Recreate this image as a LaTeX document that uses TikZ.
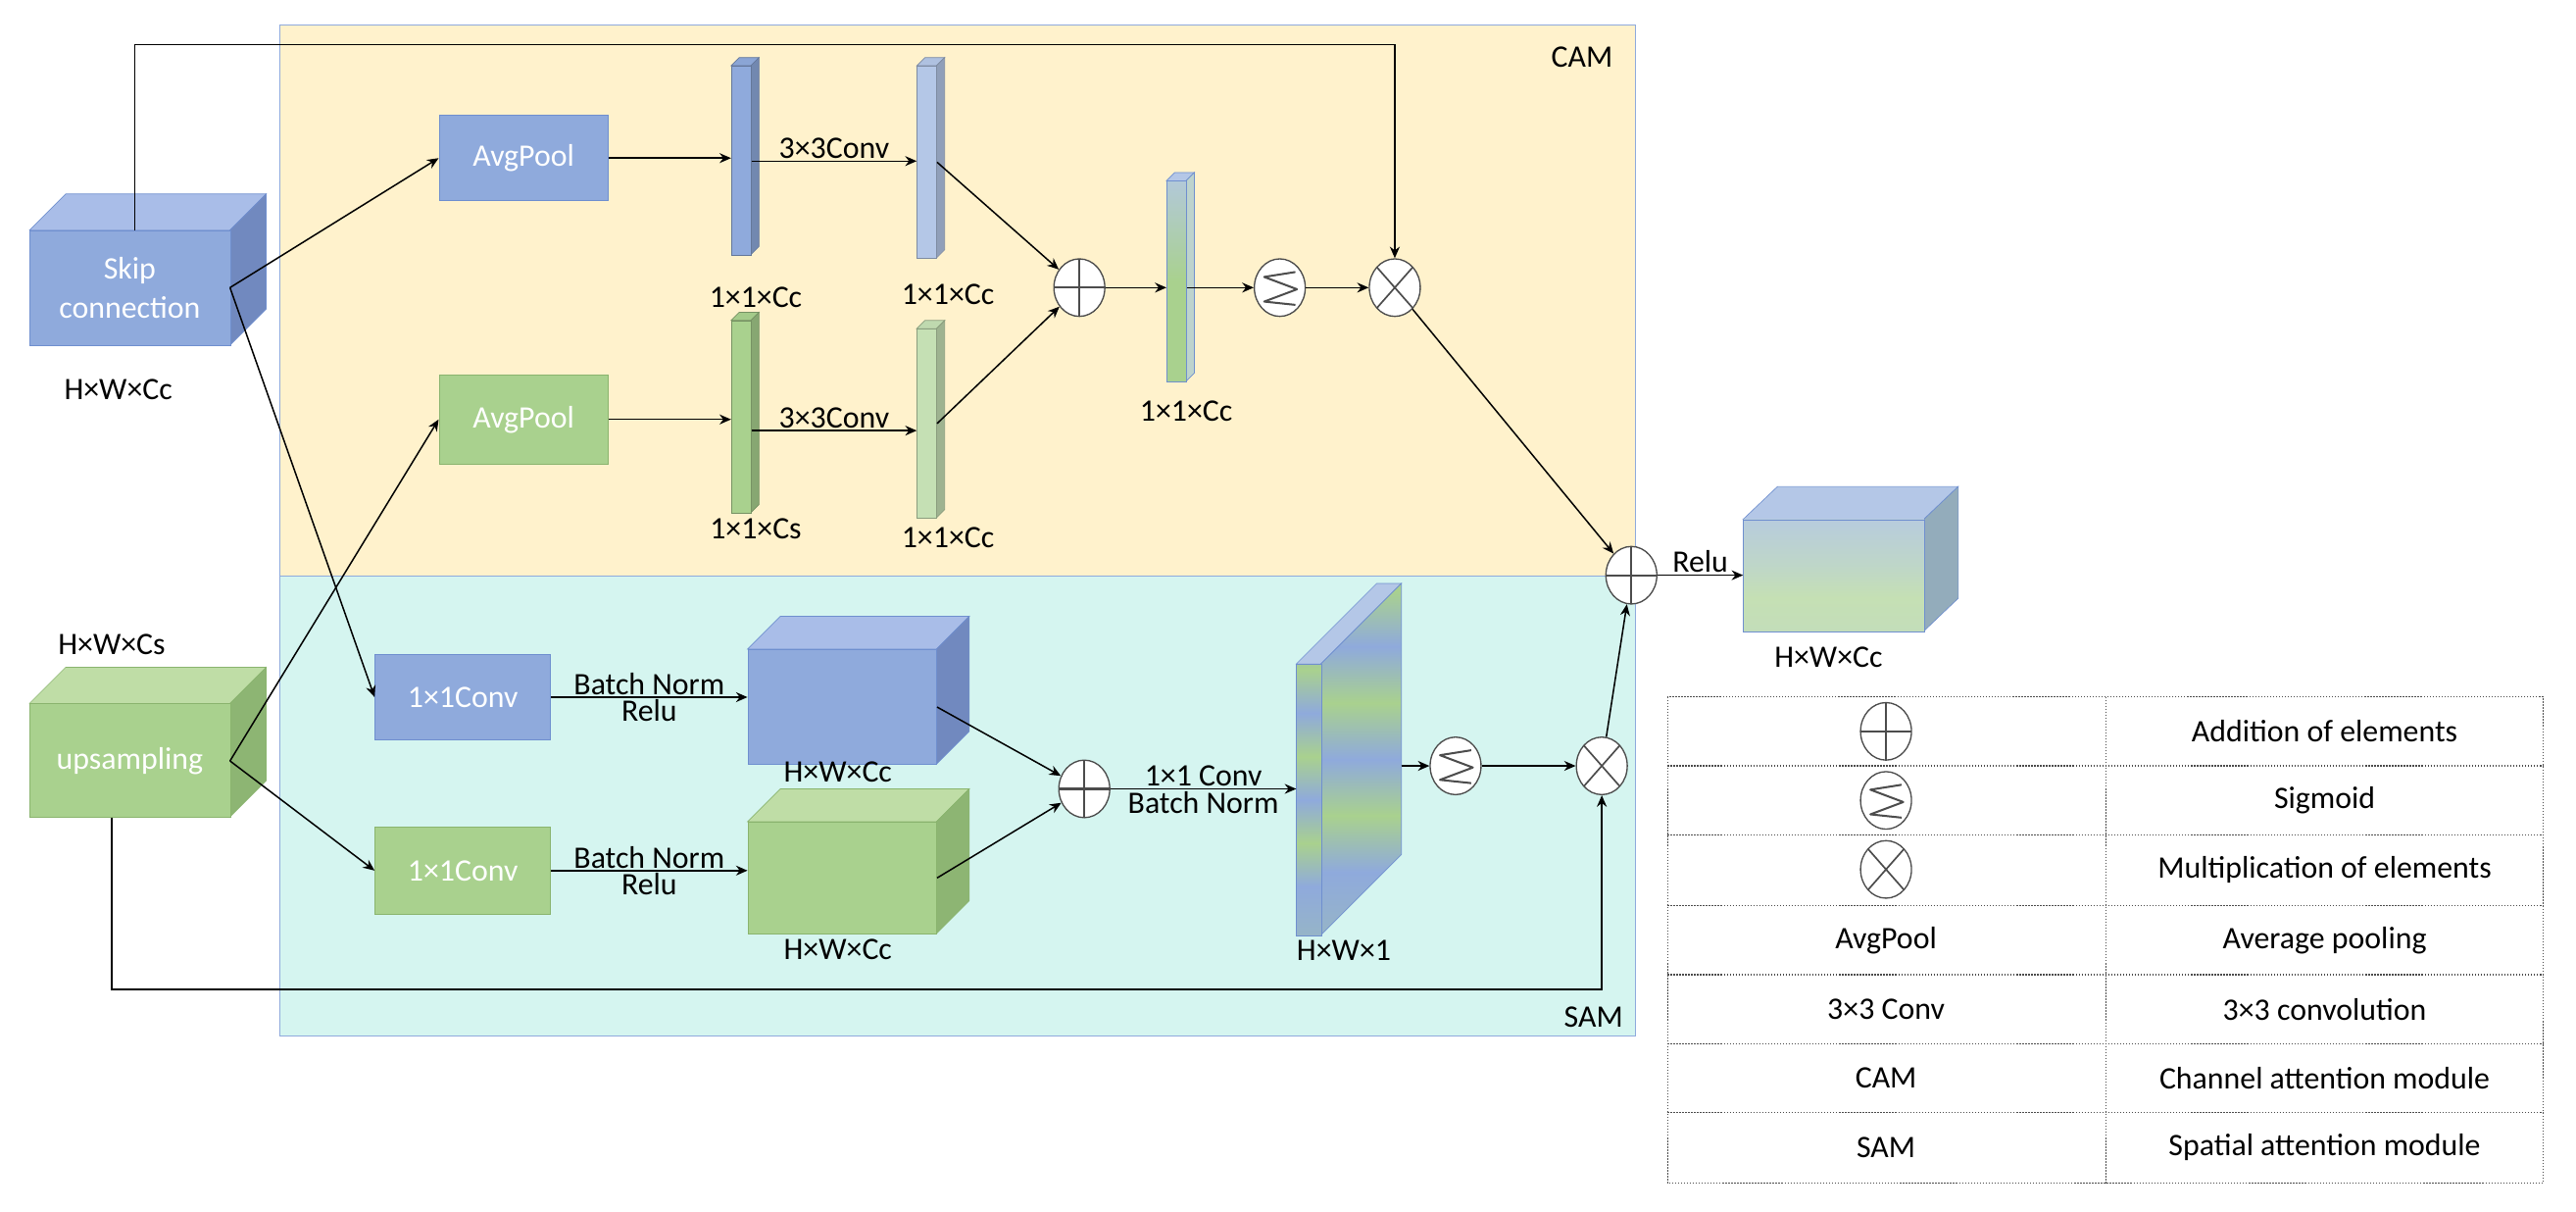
\documentclass[tikz,border=0pt]{standalone}
\usepackage{fontspec}
\setmainfont{Carlito}
\usetikzlibrary{shapes.geometric,arrows.meta}
\definecolor{camfill}{HTML}{FFF2CC}
\definecolor{samfill}{HTML}{D5F5F0}
\definecolor{frameb}{HTML}{8FAADC}
\definecolor{bfront}{HTML}{8FAADC}
\definecolor{btop}{HTML}{A9BDE8}
\definecolor{bside}{HTML}{7189BF}
\definecolor{bedge}{HTML}{6F8FCF}
\definecolor{blight}{HTML}{B4C7E7}
\definecolor{gfront}{HTML}{A9D18E}
\definecolor{gtop}{HTML}{BFDDA6}
\definecolor{gside}{HTML}{8DB573}
\definecolor{gedge}{HTML}{8AB46E}
\definecolor{glight}{HTML}{C5E0B4}
\pgfdeclareverticalshading{bg}{100bp}{color(0bp)=(gfront);color(50bp)=(gfront);color(80bp)=(blight);color(100bp)=(blight)}
\pgfdeclareverticalshading{outsh}{100bp}{color(0bp)=(glight!70!blight);color(40bp)=(glight);color(55bp)=(glight!60!blight);color(75bp)=(blight!80!glight);color(100bp)=(blight)}
\pgfdeclareverticalshading{stripes}{100bp}{color(0bp)=(gfront);color(34bp)=(bfront);color(42bp)=(gfront);color(50bp)=(bfront);color(58bp)=(gfront);color(66bp)=(bfront);color(74bp)=(gfront);color(82bp)=(bfront);color(90bp)=(gfront);color(100bp)=(bfront)}
\newcommand\mycube[7]{%
 \filldraw[fill=#7top,draw=#7edge] (#2,#3)--({#2+#6},{#3-#6})--({#4+#6},{#3-#6})--(#4,#3)--cycle;
 \filldraw[fill=#7side,draw=#7edge] (#4,#3)--({#4+#6},{#3-#6})--({#4+#6},{#5-#6})--(#4,#5)--cycle;
 \node[draw=#7edge,fill=#7front,inner sep=0,minimum width={#4-#2},minimum height={#5-#3},anchor=north west] (#1) at (#2,#3) {};}
\newcommand\mybar[6]{% name x1 y1 x2 y2 fill
 \filldraw[fill=#6!85!black!20!#6,draw=#6!70!black] (#2,#3)--({#2+5},{#3-5})--({#4+5},{#3-5})--(#4,#3)--cycle;
 \filldraw[fill=#6!80!black,draw=#6!70!black] (#4,#3)--({#4+5},{#3-5})--({#4+5},{#5-5})--(#4,#5)--cycle;
 \node[draw=#6!70!black,fill=#6,inner sep=0,minimum width={#4-#2},minimum height={#5-#3},anchor=north west] (#1) at (#2,#3) {};}
\tikzset{
 arr/.style={-{Stealth[length=7pt,width=6pt]},line width=0.9pt},
 op/.style={ellipse,draw=black!70,fill=white,minimum width=31pt,minimum height=35pt,inner sep=0,line width=0.8pt},
 plus/.style={op,path picture={\draw[line width=1.3pt] (path picture bounding box.north)--(path picture bounding box.south) (path picture bounding box.west)--(path picture bounding box.east);}},
 times/.style={op,path picture={\draw[line width=1pt] ([shift={(4.5pt,-5pt)}]path picture bounding box.north west)--([shift={(-4.5pt,5pt)}]path picture bounding box.south east) ([shift={(-4.5pt,-5pt)}]path picture bounding box.north east)--([shift={(4.5pt,5pt)}]path picture bounding box.south west);}},
 sig/.style={op,path picture={\draw[line width=1.2pt,line join=round] ([shift={(-6pt,-8pt)}]path picture bounding box.north east)--([shift={(6pt,-11pt)}]path picture bounding box.north west)--([shift={(-5pt,-1pt)}]path picture bounding box.east)--([shift={(6pt,9pt)}]path picture bounding box.south west)--([shift={(-6pt,7pt)}]path picture bounding box.south east);}},
 box/.style={draw=bedge,fill=bfront,text=white,inner sep=0,anchor=north west},
 lbl/.style={inner sep=1pt},
}
\begin{document}
\begin{tikzpicture}[x=1pt,y=-1pt,font=\fontsize{19}{22}\selectfont]
\useasboundingbox (0,0) rectangle (1568,737);
\node[draw=frameb,fill=camfill,line width=0.8pt,inner sep=0,minimum width=825,minimum height=335,anchor=north west] (cam) at (170,15) {};
\node[draw=frameb,fill=samfill,line width=0.8pt,inner sep=0,minimum width=825,minimum height=280,anchor=north west] (sam) at (170,350) {};
\node[lbl] (camt) at (963,35) {CAM};
\node[lbl] (samt) at (970,619) {SAM};
% input cubes
\mycube{skip}{18}{140}{140}{210}{22}{b}
\node[text=white,align=center,lbl,font=\fontsize{19}{24}\selectfont] (skipt) at (79,175) {Skip\\connection};
\node[lbl] (skipl) at (72,237) {H×W×Cc};
\mycube{up}{18}{428}{140}{497}{22}{g}
\node[text=white,lbl] (upt) at (79,463) {upsampling};
\node[lbl] (upl) at (68,392) {H×W×Cs};
\coordinate (skipr) at (140,175);
\coordinate (upr) at (140,463);
% CAM
\node[box,minimum width=103,minimum height=52] (ap1) at (267,70) {AvgPool};
\node[box,draw=gedge,fill=gfront,minimum width=103,minimum height=54] (ap2) at (267,228) {AvgPool};
\mybar{b1}{445}{40}{457}{155}{bfront}
\mybar{b2}{558}{40}{570}{157}{blight}
\mybar{g1}{445}{195}{457}{312}{gfront}
\mybar{g2}{558}{200}{570}{315}{glight}
\node[lbl] at (460,181) {1×1×Cc};
\node[lbl] at (577,179) {1×1×Cc};
\node[lbl] at (460,322) {1×1×Cs};
\node[lbl] at (577,327) {1×1×Cc};
\draw[arr] (ap1.east) -- (ap1.east -| b1.west);
\draw[arr] (ap2.east) -- (ap2.east -| g1.west);
\draw[arr] (b1.east |- 0,98) -- node[above,lbl] {3×3Conv} (b2.west |- 0,98);
\draw[arr] (g1.east |- 0,262) -- node[above,lbl] {3×3Conv} (g2.west |- 0,262);
\node[plus] (p1) at (657,175) {};
\draw[arr] (b2.east) -- (p1);
\draw[arr] (g2.east) -- (p1);
\filldraw[fill=blight,draw=bedge] (710,110)--(715,105)--(727,105)--(722,110)--cycle;
\filldraw[fill=glight!50!blight,draw=bedge] (722,110)--(727,105)--(727,227)--(722,232)--cycle;
\node[shading=bg,draw=bedge,inner sep=0,minimum width=12,minimum height=122,anchor=north west] (gb) at (710,110) {};
\node[lbl] at (722,250) {1×1×Cc};
\node[sig] (s1) at (779,175) {};
\node[times] (t1) at (849,175) {};
\draw[arr] (p1) -- (gb.west |- p1);
\draw[arr] (gb.east |- s1) -- (s1);
\draw[arr] (s1) -- (t1);
\draw[arr] (skip.north -| 82,0) -- (82,27) -- (849,27) -- (t1.north);
\draw[arr] (skipr) -- (ap1.west);
\draw[arr] (upr) -- (ap2.west);
% SAM
\node[box,minimum width=107,minimum height=52] (c1) at (228,398) {1×1Conv};
\node[box,draw=gedge,fill=gfront,minimum width=107,minimum height=53] (c2) at (228,503) {1×1Conv};
\draw[arr] (skipr) -- (c1.west);
\draw[arr] (upr) -- (c2.west);
\mycube{bc}{455}{395}{570}{465}{20}{b}
\mycube{gc}{455}{500}{570}{568}{20}{g}
\node[lbl] at (510,470) {H×W×Cc};
\node[lbl] at (510,578) {H×W×Cc};
\draw[arr] (c1.east) -- node[above,lbl] {Batch Norm} node[below,lbl] {Relu} (c1.east -| bc.west);
\draw[arr] (c2.east) -- node[above,lbl] {Batch Norm} node[below,lbl] {Relu} (c2.east -| gc.west);
\node[plus] (p3) at (660,480) {};
\draw[arr] (bc.east) -- (p3);
\draw[arr] (gc.east) -- (p3);
\filldraw[fill=blight,draw=bedge] (789,404)--(838,355)--(853,355)--(804,404)--cycle;
\path[shading=stripes,draw=bedge] (804,404)--(853,355)--(853,520)--(804,569)--cycle;
\node[shading=stripes,draw=bedge,inner sep=0,minimum width=15,minimum height=165,anchor=north west] (slab) at (789,404) {};
\node[lbl] at (818,578) {H×W×1};
\draw[arr] (p3) -- node[above,lbl] {1×1 Conv} node[below,lbl] {Batch Norm} (slab.west |- p3);
\node[sig] (s2) at (886,466) {};
\node[times] (t2) at (975,466) {};
\draw[arr] (853,466) -- (s2);
\draw[arr] (s2) -- (t2);
\draw[arr] (up.south -| 68,0) -- (68,602) -- (975,602) -- (t2.south);
% output
\node[plus] (p2) at (993,350) {};
\draw[arr] (t1) -- (p2);
\draw[arr] (t2) -- (p2);
\filldraw[fill=blight,draw=bedge] (1061,316)--(1082,296)--(1192,296)--(1171,316)--cycle;
\filldraw[fill=glight!40!bside,draw=bedge] (1171,316)--(1192,296)--(1192,364)--(1171,384)--cycle;
\node[shading=outsh,draw=bedge,inner sep=0,minimum width=110,minimum height=68,anchor=north west] (out) at (1061,316) {};
\node[lbl] at (1113,400) {H×W×Cc};
\draw[arr] (p2) -- node[above,lbl] {Relu} (out.west |- p2);
% legend table
\draw[densely dotted,line width=0.8pt,black!70] (1015,424) rectangle (1548,720);
\foreach \yy in {466,508,551,593,635,677} \draw[densely dotted,line width=0.8pt,black!70] (1015,\yy) -- (1548,\yy);
\draw[densely dotted,line width=0.8pt,black!70] (1282,424) -- (1282,720);
\node[plus] (lp) at (1148,445) {};
\node[sig] (ls) at (1148,487) {};
\node[times] (lt) at (1148,529) {};
\node[lbl] at (1148,572) {AvgPool};
\node[lbl] at (1148,614) {3×3 Conv};
\node[lbl] at (1148,656) {CAM};
\node[lbl] at (1148,698) {SAM};
\node[lbl] at (1415,445) {Addition of elements};
\node[lbl] at (1415,487) {Sigmoid};
\node[lbl] at (1415,529) {Multiplication of elements};
\node[lbl] at (1415,572) {Average pooling};
\node[lbl] at (1415,614) {3×3 convolution};
\node[lbl] at (1415,656) {Channel attention module};
\node[lbl] at (1415,698) {Spatial attention module};
\end{tikzpicture}
\end{document}
